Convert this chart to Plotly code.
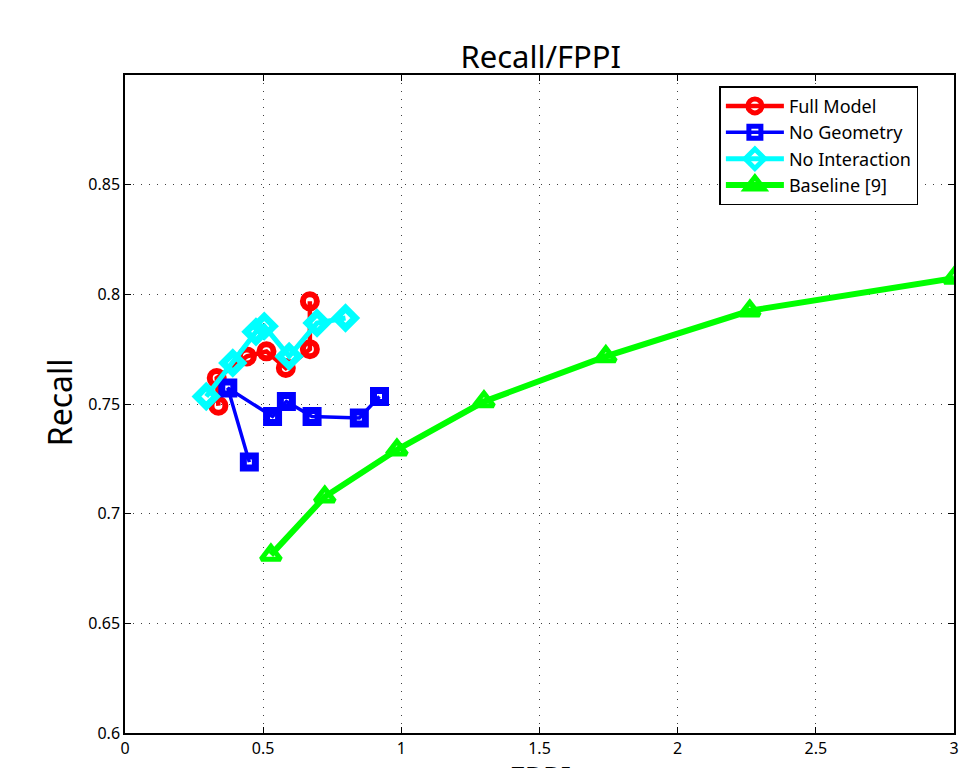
import plotly.graph_objects as go

# ---- data ----
full_x = [0.338, 0.332, 0.441, 0.512, 0.582, 0.669, 0.669]
full_y = [0.7492, 0.7618, 0.7717, 0.7740, 0.7664, 0.7750, 0.7968]

nogeo_x = [0.450, 0.372, 0.534, 0.584, 0.677, 0.848, 0.921]
nogeo_y = [0.7235, 0.7573, 0.7443, 0.7511, 0.7443, 0.7436, 0.7534]

noint_x = [0.294, 0.390, 0.474, 0.504, 0.594, 0.695, 0.798]
noint_y = [0.7534, 0.7687, 0.7829, 0.7855, 0.7717, 0.7869, 0.7892]

base_x = [0.528, 0.723, 0.984, 1.299, 1.740, 2.261, 3.0]
base_y = [0.6812, 0.7077, 0.7291, 0.7511, 0.7717, 0.7925, 0.8074]

x_ticks = [0, 0.5, 1, 1.5, 2, 2.5, 3]
x_tick_text = ["0", "0.5", "1", "1.5", "2", "2.5", "3"]
y_ticks = [0.6, 0.65, 0.7, 0.75, 0.8, 0.85]
y_tick_text = ["0.6", "0.65", "0.7", "0.75", "0.8", "0.85"]

series_names = ["Full Model", "No Geometry", "No Interaction", "Baseline [9]"]

FONT = "Noto Sans"

fig = go.Figure()

fig.add_trace(go.Scatter(
    x=full_x, y=full_y, name=series_names[0], mode="lines+markers",
    line=dict(color="#ff0000", width=4.5),
    marker=dict(symbol="circle-open", size=14, color="#ff0000", line=dict(width=6, color="#ff0000")),
))
fig.add_trace(go.Scatter(
    x=nogeo_x, y=nogeo_y, name=series_names[1], mode="lines+markers",
    line=dict(color="#0000ff", width=3.5),
    marker=dict(symbol="square-open", size=12, color="#0000ff", line=dict(width=7, color="#0000ff")),
))
fig.add_trace(go.Scatter(
    x=noint_x, y=noint_y, name=series_names[2], mode="lines+markers",
    line=dict(color="#00ffff", width=5),
    marker=dict(symbol="diamond-open", size=15, color="#00ffff", line=dict(width=7, color="#00ffff")),
))
fig.add_trace(go.Scatter(
    x=base_x, y=base_y, name=series_names[3], mode="lines+markers",
    line=dict(color="#00ff00", width=6),
    marker=dict(symbol="triangle-up-open", size=17, color="#00ff00", line=dict(width=5, color="#00ff00")),
))

axis_common = dict(
    showline=True, linecolor="black", linewidth=1.5, mirror="ticks",
    ticks="inside", ticklen=6, tickcolor="black", tickwidth=1,
    showgrid=True, gridcolor="rgba(0,0,0,0.75)", gridwidth=1, griddash="1px,7px",
    zeroline=False, tickfont=dict(family=FONT, size=16, color="black"),
)

fig.update_xaxes(range=[0, 3], tickvals=x_ticks, ticktext=x_tick_text, **axis_common)
fig.update_yaxes(range=[0.6, 0.9], tickvals=y_ticks, ticktext=y_tick_text, **axis_common)

fig.update_layout(
    width=963, height=768,
    margin=dict(l=125, r=4, t=75, b=35),
    paper_bgcolor="white", plot_bgcolor="white",
    title=dict(text="Recall/FPPI", x=0.5615, xanchor="center", y=0.926, yanchor="middle",
               font=dict(family=FONT, size=31, color="black")),
    showlegend=True,
    legend=dict(x=0.717, xanchor="left", y=0.983, yanchor="top",
                bordercolor="black", borderwidth=1.5, bgcolor="white",
                font=dict(family=FONT, size=18, color="black"),
                tracegroupgap=0, itemwidth=58),
    annotations=[
        dict(text="Recall", xref="paper", yref="paper", x=-0.079, y=0.502,
             xanchor="center", yanchor="middle", textangle=-90, showarrow=False,
             font=dict(family=FONT, size=32, color="black")),
        dict(text="FPPI", xref="paper", yref="paper", x=0.5, y=-0.034,
             xanchor="center", yanchor="top", showarrow=False,
             font=dict(family=FONT, size=30, color="black")),
    ],
)

fig.write_html("out.html")
